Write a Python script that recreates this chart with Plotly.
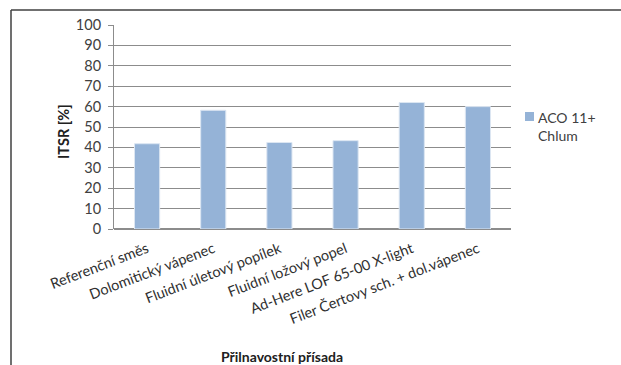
import plotly.graph_objects as go

# ITSR for each adhesion additive
categories = [
    "Referenční směs",
    "Dolomitický vápenec",
    "Fluidní úletový popílek",
    "Fluidní ložový popel",
    "Ad-Here LOF 65-00 X-light",
    "Filer Čertovy sch. + dol.vápenec",
]
itsr_values = [41.8, 58.2, 42.4, 43.3, 62.0, 60.0]
series_name = "ACO 11+<br>Chlum"
y_ticks = [0, 10, 20, 30, 40, 50, 60, 70, 80, 90, 100]

W, H = 621, 365
L, R, T, B = 114, 511, 25, 229  # plot area in pixels

def px(x):
    return (x - L) / (R - L)

def py(y):
    return (B - y) / (B - T)

font_family = "Lato, 'Open Sans', sans-serif"
bar_color = "#95B3D7"
text_color = "#404040"

fig = go.Figure()
fig.add_trace(go.Bar(
    x=categories,
    y=itsr_values,
    name=series_name,
    marker=dict(color=bar_color, line=dict(color="#DCE6F2", width=1)),
    width=0.38,
    showlegend=False,
))

fig.update_layout(
    width=W, height=H,
    margin=dict(l=L, r=W - R, t=T, b=H - B, pad=0),
    paper_bgcolor="white",
    plot_bgcolor="white",
    font=dict(family=font_family, size=14, color=text_color),
    showlegend=False,
    xaxis=dict(
        tickangle=-21,
        showgrid=False,
        showline=False,
        ticks="",
        ticklabelstandoff=8,
        tickfont=dict(size=14.5, color="#303030"),
    ),
    yaxis=dict(
        range=[0, 100],
        tickvals=y_ticks,
        showgrid=True,
        gridcolor="#8C8C8C",
        gridwidth=1,
        showline=True,
        linecolor="#8C8C8C",
        zeroline=True,
        zerolinecolor="#8C8C8C",
        ticks="outside",
        ticklen=5,
        tickcolor="#8C8C8C",
        ticklabelstandoff=4,
        tickfont=dict(size=14.5, color=text_color),
    ),
    annotations=[
        dict(text="<b>ITSR [%]</b>", x=px(63), y=py(132), xref="paper", yref="paper",
             xanchor="center", yanchor="middle",
             textangle=-90, showarrow=False, font=dict(size=14.5, color="#202020")),
        dict(text="<b>Přilnavostní přísada</b>", x=px(282), y=py(356), xref="paper", yref="paper",
             xanchor="center", yanchor="middle",
             showarrow=False, font=dict(size=14, color="#202020")),
        # series key
        dict(text=series_name, x=px(536), y=py(107), xref="paper", yref="paper",
             xanchor="left", yanchor="top", align="left",
             showarrow=False, font=dict(size=14, color=text_color)),
    ],
    shapes=[
        dict(type="rect", xref="paper", yref="paper", x0=px(525), y0=py(112), x1=px(534), y1=py(121),
             fillcolor=bar_color, line=dict(width=0)),
        dict(type="line", xref="paper", yref="paper", x0=px(11), y0=py(10), x1=px(640), y1=py(10),
             line=dict(color="#404040", width=1.5)),
        dict(type="line", xref="paper", yref="paper", x0=px(11), y0=py(10), x1=px(11), y1=py(380),
             line=dict(color="#404040", width=1.5)),
    ],
)

fig.write_html("out.html")
